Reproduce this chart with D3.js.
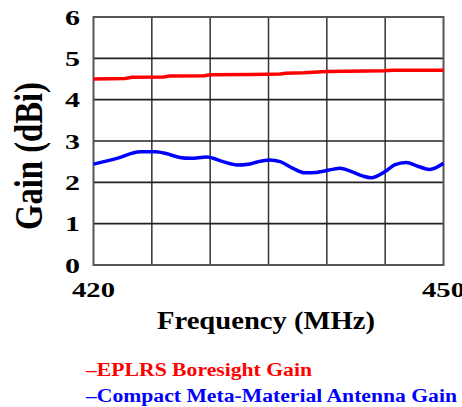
<!DOCTYPE html>
<html><head><meta charset="utf-8">
<script src="https://cdn.jsdelivr.net/npm/d3@7"></script>
<style>body{margin:0;background:#fff}svg{display:block}</style>
</head><body>
<script>
const xTicks = [420, 450];
const yTicks = [0, 1, 2, 3, 4, 5, 6];
const xGrid = [425, 430, 435, 440, 445];
const yGrid = [1, 2, 3, 4, 5];
const redFreq = [420, 422.7, 423.3, 426, 426.5, 429.5, 430, 433.5, 436, 436.5, 438, 440, 445, 445.6, 450];
const redGain = [4.50, 4.51, 4.54, 4.55, 4.57, 4.58, 4.60, 4.61, 4.62, 4.64, 4.65, 4.68, 4.70, 4.71, 4.71];
const blueFreq = [420, 422.0, 424.0, 425.3, 426.3, 427.4, 428.3, 429.7, 431.1, 432.3, 433.3, 434.1, 435.1, 436.0, 437.1, 438.1, 439.1, 440.6, 441.1, 442.3, 443.1, 443.8, 445.0, 445.8, 446.8, 447.8, 448.8, 450];
const blueGain = [2.44, 2.58, 2.74, 2.74, 2.69, 2.60, 2.58, 2.61, 2.50, 2.42, 2.44, 2.50, 2.54, 2.50, 2.34, 2.23, 2.24, 2.32, 2.34, 2.24, 2.15, 2.11, 2.26, 2.42, 2.48, 2.39, 2.31, 2.46];
const legendLabels = ["\u2013EPLRS Boresight Gain", "\u2013Compact Meta-Material Antenna Gain"];
const legendColors = ["#ff0000", "#0000ff"];

const W = 462, H = 407;
const m = {left: 93.5, top: 17, right: 18.5, bottom: 142};
const iw = W - m.left - m.right, ih = H - m.top - m.bottom;
const svg = d3.select("body").append("svg").attr("width", W).attr("height", H)
  .attr("font-family", "'Liberation Serif', 'DejaVu Serif', serif").attr("font-weight", "bold");
const g = svg.append("g").attr("transform", `translate(${m.left},${m.top})`);
const x = d3.scaleLinear().domain([420, 450]).range([0, iw]);
const y = d3.scaleLinear().domain([0, 6]).range([ih, 0]);

// grid
g.selectAll(".vg").data(xGrid).join("line")
  .attr("x1", d => x(d)).attr("x2", d => x(d)).attr("y1", 0).attr("y2", ih)
  .attr("stroke", "#333").attr("stroke-width", 1.5);
g.selectAll(".hg").data(yGrid).join("line")
  .attr("x1", 0).attr("x2", iw).attr("y1", d => y(d)).attr("y2", d => y(d))
  .attr("stroke", "#222").attr("stroke-width", 1.6);
g.append("rect").attr("x", 0).attr("y", 0).attr("width", iw).attr("height", ih)
  .attr("fill", "none").attr("stroke", "#555").attr("stroke-width", 2);

// lines
const line = d3.line().x(d => x(d[0])).y(d => y(d[1]));
g.append("path").datum(redFreq.map((f, i) => [f, redGain[i]]))
  .attr("d", line).attr("fill", "none").attr("stroke", "#ff0000").attr("stroke-width", 3.5);
g.append("path").datum(blueFreq.map((f, i) => [f, blueGain[i]]))
  .attr("d", line.curve(d3.curveMonotoneX)).attr("fill", "none").attr("stroke", "#0000ff").attr("stroke-width", 3.5)
  .attr("stroke-linejoin", "round");

// y tick labels
g.selectAll(".yt").data(yTicks).join("text")
  .attr("x", -13.5).attr("y", d => y(d)).attr("dy", "0.35em")
  .attr("text-anchor", "end").attr("font-size", 22)
  .attr("textLength", 15).attr("lengthAdjust", "spacingAndGlyphs")
  .text(d => d);

// x tick labels
g.selectAll(".xt").data(xTicks).join("text")
  .attr("x", d => x(d)).attr("y", ih + 32)
  .attr("text-anchor", "middle").attr("font-size", 22)
  .attr("textLength", 43).attr("lengthAdjust", "spacingAndGlyphs")
  .text(d => d);

// axis titles
svg.append("text").attr("x", 266).attr("y", 328.5).attr("text-anchor", "middle")
  .attr("font-size", 25).attr("textLength", 218).attr("lengthAdjust", "spacingAndGlyphs")
  .text("Frequency (MHz)");
svg.append("text").attr("transform", "translate(28,156) scale(1.22,1) rotate(-90)")
  .attr("text-anchor", "middle").attr("dy", "0.35em").attr("font-size", 32)
  .attr("textLength", 148).attr("lengthAdjust", "spacingAndGlyphs")
  .text("Gain (dBi)");

// legend
const legW = [226, 371];
svg.selectAll(".leg").data(legendLabels).join("text")
  .attr("x", 86).attr("y", (d, i) => 376 + i * 25.5)
  .attr("font-size", 18).attr("fill", (d, i) => legendColors[i])
  .attr("textLength", (d, i) => legW[i]).attr("lengthAdjust", "spacingAndGlyphs")
  .text(d => d);
</script>
</body></html>
